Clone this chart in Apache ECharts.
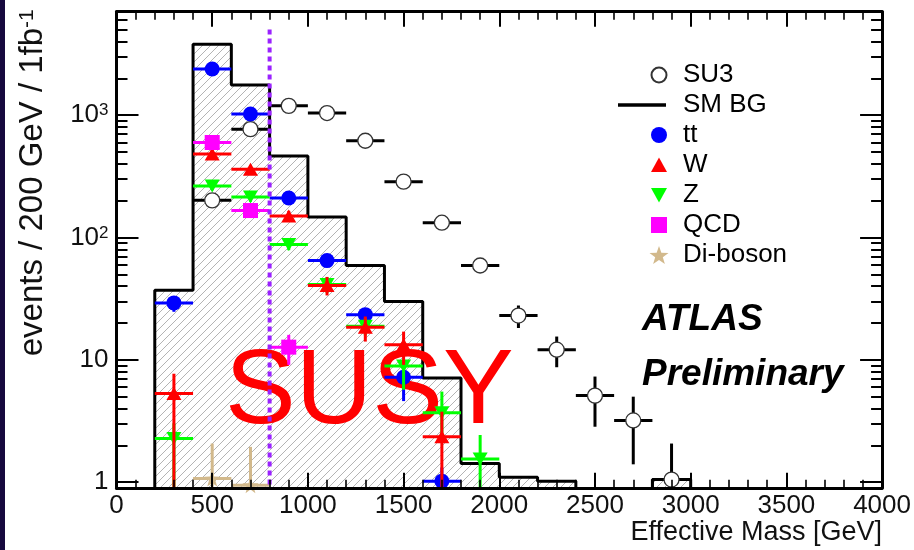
<!DOCTYPE html>
<html>
<head>
<meta charset="utf-8">
<script src="https://cdn.jsdelivr.net/npm/echarts@6/dist/echarts.min.js"></script>
<style>
  html, body { margin: 0; padding: 0; background: #fff; }
  #chart { width: 914px; height: 550px; }
</style>
</head>
<body>
<div id="chart"></div>
<script>
// Effective mass distribution: SU3 signal against the Standard Model backgrounds, 1 fb^-1

// ---- histogram (SM background), 200 GeV bins, value per bin (0 = empty) ----
const binEdges = [0, 200, 400, 600, 800, 1000, 1200, 1400, 1600, 1800, 2000, 2200, 2400, 2600, 2800, 3000, 3200, 3400, 3600, 3800];
const smBg     = [0, 37, 3800, 1760, 464, 147, 59, 30, 7.1, 1.42, 1.10, 1.02, 0, 0, 1.05, 0, 0, 0, 0, 0];

// ---- SU3 signal ----
const su3Mass   = [500, 700, 900, 1100, 1300, 1500, 1700, 1900, 2100, 2300, 2500, 2700, 2900];
const su3Events = [201, 768, 1190, 1040, 617, 286, 132, 59, 23, 12.1, 5.1, 3.2, 1.05];
const su3ErrLo  = [14, 28, 34, 32, 25, 17, 11.5, 7.7, 4.8, 3.4, 2.26, 1.8, 1.02];
const su3ErrHi  = [14, 28, 34, 32, 25, 17, 11.5, 7.7, 4.8, 3.4, 2.2, 1.8, 1.02];

// ---- ttbar ----
const ttMass   = [300, 500, 700, 900, 1100, 1300, 1500, 1700];
const ttEvents = [29.2, 2380, 1020, 210, 64.7, 23.4, 7.2, 1.02];
const ttErrLo  = [4.5, 60, 35, 14, 6, 3, 2.6, 0.3];
const ttErrHi  = [3.5, 60, 35, 14, 6, 3, 1.9, 0.3];

// ---- W + jets ----
const wMass   = [300, 500, 700, 900, 1100, 1300, 1500, 1700];
const wEvents = [5.3, 480, 361, 150, 40.6, 18.5, 13.3, 2.35];
const wErrLo  = [5.3, 40, 30, 15, 7, 4.4, 4.2, 2.35];
const wErrHi  = [2.4, 40, 30, 15, 7, 4.1, 3.7, 1.42];

// ---- Z + jets ----
const zMass   = [300, 500, 700, 900, 1100, 1300, 1500, 1700, 1900];
const zEvents = [2.28, 263, 214, 87.7, 41.2, 18.8, 8.9, 3.7, 1.55];
const zErrLo  = [2.28, 20, 18, 9, 6, 3, 3.2, 1.6, 1.55];
const zErrHi  = [0.75, 20, 18, 9, 6, 3, 0.5, 1.8, 0.88];

// ---- QCD ----
const qcdMass   = [500, 700, 900];
const qcdEvents = [597, 166, 12.7];
const qcdErrLo  = [50, 15, 3.6];
const qcdErrHi  = [50, 15, 3.3];

// ---- Di-boson ----
const dbMass   = [500, 700];
const dbEvents = [1.07, 0.945];
const dbErrLo  = [1.07, 0.945];
const dbErrHi  = [1.0, 1.0];

// ---- cut line ----
const cutMass = 800;
const cutTop = 5000;

// ---- axes ----
const X_MIN = 0, X_MAX = 4000, X_STEP = 500;
const Y_MIN = 0.9, Y_MAX = 7000;
const yMajorTicks = [1, 10, 100, 1000];
const yMinorTicks = [2, 3, 4, 5, 6, 7, 8, 9, 20, 30, 40, 50, 60, 70, 80, 90,
                     200, 300, 400, 500, 600, 700, 800, 900, 2000, 3000, 4000, 5000, 6000, 7000];

const HALF_BIN = 100;       // horizontal error bar half width (bin width / 2)
const EMPTY_FLOOR = 0.1;    // empty bins sit below the log-axis floor
const FONT = '"Liberation Sans", Arial, Helvetica, sans-serif';

// diagonal hatch used for the background histogram fill
function hatchPattern() {
  const s = 8;
  const c = document.createElement('canvas');
  c.width = s; c.height = s;
  const g = c.getContext('2d');
  g.strokeStyle = '#b4b4b4';
  g.lineWidth = 1;
  g.beginPath();
  g.moveTo(0, s); g.lineTo(s, 0);
  g.moveTo(-1, 1); g.lineTo(1, -1);
  g.moveTo(s - 1, s + 1); g.lineTo(s + 1, s - 1);
  g.stroke();
  return c;
}

const starPath = 'path://M10,0L12.35,6.76L19.51,6.91L13.8,11.24L15.88,18.09L10,14L4.12,18.09L6.2,11.24L0.49,6.91L7.65,6.76Z';

// legend icons share a 60x20 box; the leading moves fix the box extent
const legendIcons = {
  su3: 'path://M0,0M60,20M48.5,10A7.5,7.5,0,1,1,33.5,10A7.5,7.5,0,1,1,48.5,10Z',
  bg:  'path://M0,0M60,20M0,8.2L48,8.2L48,11.8L0,11.8Z',
  tt:  'path://M0,0M60,20M49,10A8,8,0,1,1,33,10A8,8,0,1,1,49,10Z',
  w:   'path://M0,0M60,20M41,2.5L49,17L33,17Z',
  z:   'path://M0,0M60,20M33,3L49,3L41,17.5Z',
  qcd: 'path://M0,0M60,20M33,2L49,2L49,18L33,18Z',
  db:  'path://M0,0M60,20M41,1L43.35,7.76L50.51,7.91L44.8,12.24L46.88,19.09L41,15L35.12,19.09L37.2,12.24L31.49,7.91L38.65,7.76Z'
};

function errorBars(name, color, xs, vals, lo, hi, z) {
  return {
    name: name + ' errors',
    type: 'custom',
    z: z,
    xAxisIndex: 0,
    yAxisIndex: 0,
    encode: { x: 0, y: 1 },
    data: xs.map((x, i) => [x, vals[i], lo[i], hi[i]]),
    renderItem: function (params, api) {
      const x = api.value(0), v = api.value(1), l = api.value(2), h = api.value(3);
      const c = api.coord([x, v]);
      const xl = api.coord([x - HALF_BIN, v])[0];
      const xr = api.coord([x + HALF_BIN, v])[0];
      const yTop = api.coord([x, v + h])[1];
      const yBot = api.coord([x, Math.max(v - l, Y_MIN)])[1];
      const st = { stroke: color, lineWidth: 3 };
      return {
        type: 'group',
        children: [
          { type: 'line', shape: { x1: xl, y1: c[1], x2: xr, y2: c[1] }, style: st },
          { type: 'line', shape: { x1: c[0], y1: yTop, x2: c[0], y2: yBot }, style: st }
        ]
      };
    }
  };
}

function markers(name, xs, vals, symbol, size, itemStyle, z) {
  return {
    name: name,
    type: 'scatter',
    z: z,
    xAxisIndex: 0,
    yAxisIndex: 0,
    symbol: symbol,
    symbolSize: size,
    itemStyle: Object.assign({ opacity: 1 }, itemStyle),
    emphasis: { disabled: true },
    data: xs.map((x, i) => [x, vals[i]])
  };
}

// step-histogram points: one point per left edge plus the closing right edge
const bgPoints = binEdges.map((e, i) => [e, smBg[i] > 0 ? smBg[i] : EMPTY_FLOOR]);
bgPoints.push([X_MAX, bgPoints[bgPoints.length - 1][1]]);

function yLabel(v) {
  if (v >= 100) return '{b|10}{s|' + Math.round(Math.log10(v)) + '}';
  return '{b|' + v + '}';
}

const axisLineStyle = { color: '#000', width: 3 };
const xTickCommon = {
  axisTick: { show: true, inside: true, length: 15, lineStyle: { color: '#000', width: 2 } },
  minorTick: { show: true, splitNumber: 5, length: 8, lineStyle: { color: '#000', width: 1.6 } },
  splitLine: { show: false },
  minorSplitLine: { show: false }
};

function yAxisDef(position, ticks, len, withLine, withLabels, extra) {
  return Object.assign({
    type: 'log',
    logBase: 10,
    min: Y_MIN,
    max: Y_MAX,
    position: position,
    gridIndex: 0,
    axisLine: { show: withLine, lineStyle: axisLineStyle },
    axisTick: { show: true, inside: true, length: len, customValues: ticks, lineStyle: { color: '#000', width: 2 } },
    minorTick: { show: false },
    splitLine: { show: false },
    axisLabel: withLabels ? {
      show: true,
      customValues: yMajorTicks,
      margin: 8,
      formatter: yLabel,
      rich: {
        b: { fontSize: 26, fontFamily: FONT, color: '#111' },
        s: { fontSize: 17, fontFamily: FONT, color: '#111', verticalAlign: 'top' }
      }
    } : { show: false },
    z: 40
  }, extra || {});
}

const chart = echarts.init(document.getElementById('chart'), null, { renderer: 'canvas' });

chart.setOption({
  backgroundColor: '#fff',
  animation: false,
  textStyle: { fontFamily: FONT },
  grid: { left: 116.5, right: 29.3, top: 11.7, bottom: 62.2, containLabel: false },
  xAxis: [
    Object.assign({
      type: 'value', min: X_MIN, max: X_MAX, interval: X_STEP, position: 'bottom',
      axisLine: { show: true, onZero: false, lineStyle: axisLineStyle },
      axisLabel: { show: true, fontSize: 26, color: '#111', margin: 5, fontFamily: FONT, formatter: v => String(v) },
      name: 'Effective Mass [GeV]',
      nameLocation: 'end',
      nameGap: 0,
      nameTextStyle: { fontSize: 27, color: '#111', fontFamily: FONT, align: 'right', verticalAlign: 'top', padding: [31, 0, 0, 0] },
      z: 40
    }, xTickCommon),
    Object.assign({
      type: 'value', min: X_MIN, max: X_MAX, interval: X_STEP, position: 'top',
      axisLine: { show: true, onZero: false, lineStyle: axisLineStyle },
      axisLabel: { show: false },
      z: 40
    }, xTickCommon)
  ],
  yAxis: [
    yAxisDef('left', yMajorTicks, 22, true, true, {
      name: '{a|events / 200 GeV / 1fb}{s|-1}',
      nameLocation: 'middle',
      nameGap: 67,
      nameTextStyle: {
        padding: [0, 0, 0, 134],
        rich: {
          a: { fontSize: 33, fontFamily: FONT, color: '#111' },
          s: { fontSize: 21, fontFamily: FONT, color: '#111', verticalAlign: 'top' }
        }
      }
    }),
    yAxisDef('left', yMinorTicks, 11, false, false),
    yAxisDef('right', yMajorTicks, 22, true, false),
    yAxisDef('right', yMinorTicks, 11, false, false)
  ],
  legend: {
    orient: 'vertical',
    left: 617,
    top: 62,
    padding: 0,
    itemWidth: 60,
    itemHeight: 20,
    itemGap: 4,
    selectedMode: false,
    textStyle: { fontSize: 26, color: '#000', fontFamily: FONT },
    data: [
      { name: 'SU3', icon: legendIcons.su3 },
      { name: 'SM BG', icon: legendIcons.bg, itemStyle: { color: '#000', borderWidth: 0 } },
      { name: 'tt', icon: legendIcons.tt },
      { name: 'W', icon: legendIcons.w },
      { name: 'Z', icon: legendIcons.z },
      { name: 'QCD', icon: legendIcons.qcd },
      { name: 'Di-boson', icon: legendIcons.db }
    ],
    z: 50
  },
  graphic: [
    { type: 'rect', z: 60, shape: { x: 0, y: 0, width: 5, height: 550 }, style: { fill: '#16093e' } },
    { type: 'text', z: 5, style: { text: 'SUSY', x: 225, y: 394, fill: '#ff0000', font: '106px ' + FONT, verticalAlign: 'middle' } },
    { type: 'text', z: 50, style: { text: 'ATLAS', x: 642, y: 319.5, fill: '#000', font: 'italic bold 37px ' + FONT, verticalAlign: 'middle' } },
    { type: 'text', z: 50, style: { text: 'Preliminary', x: 642, y: 375, fill: '#000', font: 'italic bold 37px ' + FONT, verticalAlign: 'middle' } }
  ],
  series: [
    {
      name: 'SM BG',
      type: 'line',
      step: 'end',
      z: 2,
      xAxisIndex: 0,
      yAxisIndex: 0,
      symbol: 'none',
      clip: true,
      data: bgPoints,
      lineStyle: { color: '#000', width: 3 },
      itemStyle: { color: '#000' },
      emphasis: { disabled: true },
      areaStyle: { origin: 'start', opacity: 1, color: { image: hatchPattern(), repeat: 'repeat' } }
    },
    errorBars('SU3', '#000', su3Mass, su3Events, su3ErrLo, su3ErrHi, 10),
    markers('SU3', su3Mass, su3Events, 'circle', 15, { color: '#fff', borderColor: '#333', borderWidth: 1.3 }, 11),
    errorBars('tt', '#0000ff', ttMass, ttEvents, ttErrLo, ttErrHi, 12),
    markers('tt', ttMass, ttEvents, 'circle', 15, { color: '#0000ff' }, 13),
    errorBars('Z', '#00ff00', zMass, zEvents, zErrLo, zErrHi, 14),
    markers('Z', zMass, zEvents, 'path://M0,0L20,0L10,17Z', [15, 13], { color: '#00ff00' }, 15),
    errorBars('W', '#ff0000', wMass, wEvents, wErrLo, wErrHi, 16),
    markers('W', wMass, wEvents, 'triangle', [15, 13], { color: '#ff0000' }, 17),
    errorBars('QCD', '#ff00ff', qcdMass, qcdEvents, qcdErrLo, qcdErrHi, 18),
    markers('QCD', qcdMass, qcdEvents, 'rect', 15, { color: '#ff00ff' }, 19),
    errorBars('Di-boson', '#d2b98c', dbMass, dbEvents, dbErrLo, dbErrHi, 20),
    markers('Di-boson', dbMass, dbEvents, starPath, 16, { color: '#d2b98c' }, 21),
    {
      name: 'cut',
      type: 'line',
      z: 30,
      xAxisIndex: 0,
      yAxisIndex: 0,
      symbol: 'none',
      emphasis: { disabled: true },
      data: [[cutMass, cutTop], [cutMass, EMPTY_FLOOR]],
      lineStyle: { color: '#9a22ff', width: 4, type: [5, 4], cap: 'butt' }
    }
  ]
});
</script>
</body>
</html>
